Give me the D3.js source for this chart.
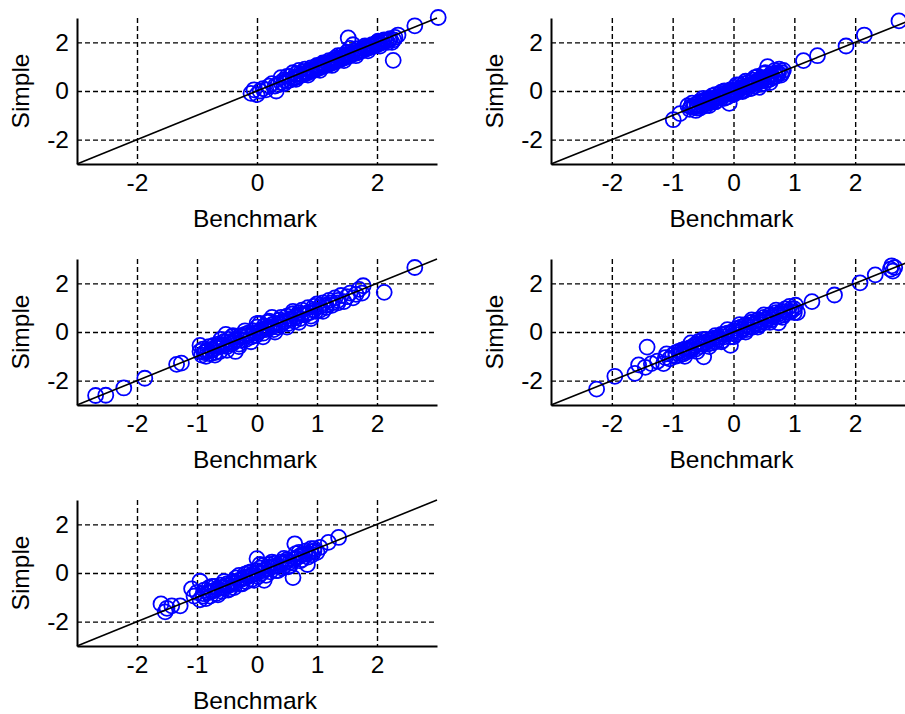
<!DOCTYPE html>
<html>
<head>
<meta charset="utf-8">
<script src="https://cdn.jsdelivr.net/npm/d3@7"></script>
<style>
  body { margin: 0; background: #fff; }
  svg text { font-family: "Liberation Sans", Arial, sans-serif; fill: #000; }
  .grid line { stroke: #000; stroke-dasharray: 5,3; stroke-width: 1.4; }
  .grid path { display: none; }
  .axis path { stroke: #000; stroke-width: 2; }
  .axis line { display: none; }
</style>
</head>
<body>
<div id="chart"></div>
<script>

// *************************************
// Data
// *************************************

const panel1 = [[-0.1,-0.1],[-0.05,0.05],[0.0,-0.15],[0.05,0.0],[0.1,0.1],[0.15,0.05],[0.2,0.2],[0.25,0.3],[0.32,0.0],[0.3,0.2],[0.35,0.25],[0.4,0.35],[0.4,0.55],[0.45,0.3],[0.5,0.4],[0.5,0.6],[0.55,0.45],[0.6,0.5],[0.6,0.75],[0.65,0.55],[0.7,0.6],[0.7,0.85],[0.75,0.65],[0.8,0.7],[0.8,0.9],[0.85,0.75],[0.9,0.8],[0.9,0.95],[0.95,0.85],[1.0,0.9],[1.0,1.05],[1.05,0.95],[1.1,1.0],[1.1,1.15],[1.15,1.05],[1.2,1.1],[1.2,1.25],[1.25,1.15],[1.3,1.2],[1.3,1.35],[1.35,1.25],[1.4,1.3],[1.4,1.45],[1.45,1.35],[1.5,1.4],[1.5,1.6],[1.55,1.45],[1.52,2.18],[1.6,1.55],[1.6,1.9],[1.65,1.55],[1.7,1.6],[1.7,1.75],[1.75,1.65],[1.8,1.7],[1.8,1.85],[1.85,1.75],[1.9,1.8],[1.95,1.85],[2.0,1.9],[2.0,2.0],[2.05,1.95],[2.1,2.0],[2.15,2.05],[2.2,2.1],[2.25,2.0],[2.3,2.2],[2.35,2.3],[2.27,1.26],[2.63,2.68],[3.02,3.02],
  [0.45,0.45],[0.55,0.6],[0.65,0.7],[0.72,0.72],[0.78,0.8],[0.88,0.85],[0.92,0.88],[0.98,1.0],[1.02,0.98],[1.08,1.08],[1.12,1.1],[1.18,1.15],[1.22,1.2],[1.28,1.25],[1.32,1.3],[1.38,1.35],[1.42,1.38],[1.48,1.5],[1.52,1.45],[1.58,1.5],[1.62,1.65],[1.68,1.6],[1.72,1.68],[1.78,1.75],[1.82,1.8],[1.88,1.85],[1.92,1.9],[1.98,1.95],[2.02,2.05],[2.08,2.05],[2.12,2.1],[2.18,2.0],[2.22,2.15],[2.28,2.1],[1.25,1.05],[1.45,1.25],[1.65,1.45],[1.85,1.65],[2.05,1.85],[1.05,0.85],[0.85,0.65],[0.65,0.48],[1.55,1.75],[1.35,1.45]];

const panel2 = [[-0.99,-1.18],[-0.88,-0.93],[-0.75,-0.6],[-0.72,-0.75],[-0.68,-0.5],[-0.65,-0.65],[-0.62,-0.8],[-0.6,-0.55],[-0.57,-0.45],[-0.55,-0.7],[-0.52,-0.6],[-0.5,-0.4],[-0.47,-0.55],[-0.45,-0.35],[-0.42,-0.5],[-0.4,-0.6],[-0.38,-0.3],[-0.35,-0.45],[-0.32,-0.35],[-0.3,-0.15],[-0.28,-0.4],[-0.25,-0.25],[-0.22,-0.1],[-0.2,-0.3],[-0.18,-0.2],[-0.15,0.0],[-0.12,-0.15],[-0.1,-0.25],[-0.07,-0.51],[-0.05,0.05],[-0.03,-0.1],[0.0,0.0],[0.02,0.15],[0.05,-0.05],[0.08,0.1],[0.1,0.25],[0.12,0.0],[0.15,0.15],[0.18,0.3],[0.2,0.05],[0.22,0.2],[0.25,0.35],[0.28,0.1],[0.3,0.25],[0.32,0.45],[0.35,0.2],[0.38,0.35],[0.4,0.6],[0.42,0.15],[0.45,0.4],[0.48,0.55],[0.5,0.3],[0.52,0.75],[0.55,0.45],[0.56,1.0],[0.58,0.6],[0.6,0.35],[0.62,0.7],[0.65,0.55],[0.68,0.85],[0.7,0.6],[0.72,0.75],[0.75,0.9],[0.78,0.65],[0.8,0.75],[0.82,0.85],[1.15,1.25],[1.38,1.45],[1.85,1.85],[2.15,2.3],[2.72,2.88],
  [-0.7,-0.65],[-0.64,-0.58],[-0.58,-0.62],[-0.52,-0.48],[-0.46,-0.45],[-0.4,-0.4],[-0.34,-0.32],[-0.28,-0.25],[-0.22,-0.22],[-0.16,-0.12],[-0.1,-0.08],[-0.04,-0.02],[0.02,0.02],[0.08,0.05],[0.14,0.12],[0.2,0.18],[0.26,0.22],[0.32,0.3],[0.38,0.4],[0.44,0.48],[0.5,0.5],[0.56,0.55],[0.62,0.62],[0.68,0.7],[0.74,0.72],[-0.6,-0.7],[-0.45,-0.6],[-0.3,-0.45],[-0.15,-0.3],[0.0,-0.15],[0.15,-0.02],[0.3,0.12],[0.45,0.28],[0.6,0.48],[-0.5,-0.3],[-0.35,-0.2],[-0.2,-0.05],[0.05,0.25],[0.2,0.4],[0.35,0.55],[0.5,0.7]];

const panel3 = [[-2.69,-2.61],[-2.52,-2.6],[-2.22,-2.3],[-1.87,-1.9],[-1.34,-1.33],[-1.26,-1.28],[-0.95,-0.55],[-0.95,-0.8],[-0.92,-0.95],[-0.9,-0.7],[-0.88,-0.85],[-0.85,-1.0],[-0.82,-0.75],[-0.8,-0.6],[-0.78,-0.9],[-0.75,-0.7],[-0.72,-0.55],[-0.7,-0.85],[-0.68,-0.65],[-0.65,-0.5],[-0.62,-0.8],[-0.6,-0.55],[-0.55,-0.4],[-0.52,-0.1],[-0.5,-0.6],[-0.47,-0.3],[-0.45,-0.5],[-0.42,-0.2],[-0.4,-0.45],[-0.36,-0.8],[-0.35,-0.3],[-0.3,-0.5],[-0.28,-0.15],[-0.25,-0.35],[-0.2,-0.1],[-0.18,-0.3],[-0.15,-0.05],[-0.1,-0.2],[-0.05,0.05],[-0.02,-0.15],[0.0,0.2],[0.03,0.0],[0.05,0.35],[0.08,0.1],[0.1,-0.05],[0.12,0.25],[0.15,0.1],[0.18,0.4],[0.2,0.15],[0.25,0.6],[0.25,0.3],[0.28,0.1],[0.3,0.35],[0.35,0.2],[0.38,0.5],[0.4,0.3],[0.45,0.45],[0.5,0.65],[0.52,0.35],[0.55,0.55],[0.6,0.75],[0.62,0.45],[0.65,0.65],[0.7,0.8],[0.72,0.55],[0.75,0.9],[0.8,0.7],[0.85,1.0],[0.88,0.8],[0.9,0.65],[0.95,1.05],[0.98,0.85],[1.0,1.15],[1.05,0.9],[1.1,1.2],[1.15,1.0],[1.2,1.3],[1.25,1.1],[1.3,1.4],[1.35,1.2],[1.4,1.5],[1.45,1.25],[1.5,1.45],[1.55,1.6],[1.6,1.4],[1.65,1.55],[1.7,1.75],[1.75,1.6],[1.77,1.9],[2.12,1.63],[2.63,2.65],
  [-0.85,-0.8],[-0.75,-0.75],[-0.65,-0.6],[-0.55,-0.55],[-0.45,-0.4],[-0.35,-0.35],[-0.25,-0.2],[-0.15,-0.15],[-0.05,-0.05],[0.05,0.05],[0.15,0.15],[0.25,0.2],[0.35,0.35],[0.45,0.4],[0.55,0.5],[0.65,0.6],[0.75,0.72],[0.85,0.8],[0.95,0.9],[1.05,1.05],[1.15,1.1],[1.25,1.2],[1.35,1.3],[-0.6,-0.3],[-0.4,-0.15],[-0.2,0.05],[0.0,0.35],[0.2,0.45],[0.4,0.6],[0.6,0.85],[-0.7,-0.95],[-0.5,-0.75],[-0.3,-0.6],[-0.1,-0.4],[0.1,-0.2],[0.3,0.0],[0.5,0.2],[0.7,0.4],[0.9,0.55],[1.1,0.85]];

const panel4 = [[-2.25,-2.35],[-1.95,-1.82],[-1.62,-1.7],[-1.56,-1.35],[-1.45,-1.45],[-1.42,-0.62],[-1.35,-1.3],[-1.25,-1.2],[-1.15,-1.3],[-1.12,-1.05],[-1.1,-0.9],[-1.05,-1.1],[-1.0,-0.95],[-0.95,-1.0],[-0.9,-0.8],[-0.88,-0.95],[-0.85,-0.75],[-0.82,-0.9],[-0.8,-0.7],[-0.75,-0.8],[-0.72,-0.65],[-0.7,-0.75],[-0.65,-0.55],[-0.62,-0.7],[-0.6,-0.5],[-0.58,-0.4],[-0.55,-0.6],[-0.5,-0.45],[-0.49,-1.02],[-0.45,-0.3],[-0.42,-0.5],[-0.4,-0.35],[-0.35,-0.45],[-0.32,-0.25],[-0.3,-0.4],[-0.25,-0.3],[-0.2,-0.1],[-0.18,-0.35],[-0.15,-0.2],[-0.1,-0.05],[-0.05,-0.2],[-0.05,-0.55],[0.0,0.05],[0.03,-0.1],[0.05,0.15],[0.1,0.0],[0.12,0.2],[0.15,0.1],[0.2,0.3],[0.22,0.1],[0.25,0.25],[0.3,0.4],[0.32,0.2],[0.35,0.35],[0.4,0.5],[0.42,0.3],[0.45,0.45],[0.5,0.6],[0.52,0.4],[0.55,0.55],[0.6,0.7],[0.62,0.5],[0.65,0.6],[0.7,0.8],[0.74,0.38],[0.75,0.65],[0.8,0.85],[0.82,0.7],[0.85,0.95],[0.9,0.8],[0.92,1.05],[0.95,0.85],[1.0,0.95],[1.02,1.1],[1.05,0.8],[1.29,1.25],[1.66,1.52],[2.08,2.02],[2.33,2.35],[2.58,2.58],[2.6,2.72],[2.65,2.65],[2.62,2.5],
  [-0.95,-0.85],[-0.85,-0.85],[-0.75,-0.7],[-0.65,-0.62],[-0.55,-0.5],[-0.45,-0.42],[-0.35,-0.3],[-0.25,-0.22],[-0.15,-0.1],[-0.05,-0.05],[0.05,0.05],[0.15,0.15],[0.25,0.2],[0.35,0.3],[0.45,0.4],[0.55,0.5],[0.65,0.65],[0.75,0.75],[0.85,0.82],[0.95,0.95],[-0.7,-0.45],[-0.5,-0.3],[-0.3,-0.15],[-0.1,0.1],[0.1,0.3],[0.3,0.5],[0.5,0.7],[0.7,0.9],[-0.8,-1.0],[-0.6,-0.8],[-0.4,-0.6],[-0.2,-0.4],[0.0,-0.2],[0.2,0.0],[0.4,0.2],[0.6,0.4],[0.8,0.6],[1.0,0.8]];

const panel5 = [[-1.6,-1.27],[-1.53,-1.6],[-1.5,-1.45],[-1.42,-1.35],[-1.28,-1.35],[-1.09,-0.65],[-1.05,-0.95],[-1.0,-0.8],[-0.95,-0.34],[-0.95,-1.1],[-0.9,-0.85],[-0.88,-0.7],[-0.85,-1.05],[-0.82,-0.8],[-0.8,-0.6],[-0.78,-0.95],[-0.75,-0.75],[-0.7,-0.55],[-0.68,-0.85],[-0.65,-0.65],[-0.6,-0.5],[-0.58,-0.75],[-0.55,-0.6],[-0.5,-0.45],[-0.48,-0.7],[-0.45,-0.5],[-0.4,-0.35],[-0.38,-0.6],[-0.35,-0.4],[-0.3,-0.1],[-0.28,-0.45],[-0.25,-0.25],[-0.2,-0.05],[-0.18,-0.35],[-0.15,-0.15],[-0.1,0.05],[-0.08,-0.25],[-0.05,-0.05],[0.0,0.59],[0.0,0.1],[0.02,-0.15],[0.05,0.2],[0.08,0.0],[0.1,0.3],[0.12,-0.3],[0.15,0.15],[0.2,0.35],[0.22,0.05],[0.25,0.25],[0.3,0.4],[0.32,0.1],[0.35,0.3],[0.4,0.45],[0.42,0.2],[0.45,0.4],[0.5,0.55],[0.52,0.25],[0.55,0.45],[0.6,-0.19],[0.63,1.2],[0.65,0.6],[0.7,0.85],[0.72,0.5],[0.75,0.75],[0.8,0.9],[0.84,0.35],[0.85,0.65],[0.9,1.0],[0.92,0.75],[0.95,0.9],[1.0,0.85],[1.05,1.05],[1.19,1.26],[1.36,1.46],
  [-0.9,-0.95],[-0.8,-0.8],[-0.7,-0.7],[-0.6,-0.6],[-0.5,-0.52],[-0.4,-0.42],[-0.3,-0.3],[-0.2,-0.2],[-0.1,-0.1],[0.0,0.0],[0.1,0.1],[0.2,0.2],[0.3,0.28],[0.4,0.38],[0.5,0.48],[0.6,0.55],[0.7,0.68],[0.8,0.78],[0.9,0.88],[-0.75,-0.55],[-0.55,-0.35],[-0.35,-0.2],[-0.15,0.0],[0.05,0.35],[0.25,0.45],[0.45,0.6],[0.65,0.8],[-0.65,-0.9],[-0.45,-0.65],[-0.25,-0.45],[-0.05,-0.3],[0.15,-0.1],[0.35,0.1],[0.55,0.3],[0.75,0.55],[0.85,0.8],[0.95,1.0]];

const panels = [panel1, panel2, panel3, panel4, panel5];

// x ticks: the first panel only shows even ticks
const xTicksFirst = [-2, 0, 2];
const xTicksOther = [-2, -1, 0, 1, 2];
const yTicks = [-2, 0, 2];
const refLine = [-3, 3];   // 45 degree line
const xLabel = "Benchmark";
const yLabel = "Simple";

// *************************************
// Layout
// *************************************

const width = 905, height = 714;
const colLeft = [77, 551];
const colWidth = [360, 365];
const rowTop = [18, 259, 500];
const plotH = 146;
const fontSize = "24.5px";

const svg = d3.select("#chart").append("svg")
  .attr("width", width)
  .attr("height", height)

panels.forEach((data, i) => {
  const col = i % 2, row = Math.floor(i / 2)
  const left = colLeft[col], top = rowTop[row], w = colWidth[col]

  const x = d3.scaleLinear().domain([-3, 3]).range([0, w])
  const y = d3.scaleLinear().domain([-3, 3]).range([plotH, 0])
  const xTicks = i === 0 ? xTicksFirst : xTicksOther

  const g = svg.append("g").attr("transform", `translate(${left},${top})`)

  // dashed grid
  g.append("g").attr("class", "grid")
    .call(d3.axisBottom(x).tickValues(xTicks).tickSize(plotH).tickFormat(""))
  g.append("g").attr("class", "grid")
    .call(d3.axisLeft(y).tickValues(yTicks).tickSize(-w).tickFormat(""))

  // circles
  g.append("g").selectAll("circle")
    .data(data)
    .join("circle")
    .attr("cx", d => x(d[0]))
    .attr("cy", d => y(d[1]))
    .attr("r", 7.5)
    .attr("fill", "none")
    .attr("stroke", "#0000ff")
    .attr("stroke-width", 1.8)

  // reference line
  g.append("path")
    .datum(refLine)
    .attr("d", d3.line().x(d => x(d)).y(d => y(d)))
    .attr("fill", "none")
    .attr("stroke", "#000")
    .attr("stroke-width", 1.6)

  // axes (no box on top/right)
  g.append("g").attr("class", "axis")
    .attr("transform", `translate(0,${plotH})`)
    .call(d3.axisBottom(x).tickValues(xTicks).tickSize(0).tickSizeOuter(0).tickPadding(10).tickFormat(d => String(d)))
  g.append("g").attr("class", "axis")
    .call(d3.axisLeft(y).tickValues(yTicks).tickSize(0).tickSizeOuter(0).tickPadding(8).tickFormat(d => String(d)))
  g.selectAll(".axis text").style("font-size", fontSize)

  g.append("text")
    .attr("x", w / 2 - 2)
    .attr("y", plotH + 63)
    .attr("text-anchor", "middle")
    .style("font-size", fontSize)
    .text(xLabel)

  g.append("text")
    .attr("transform", `translate(-48,${plotH / 2}) rotate(-90)`)
    .attr("text-anchor", "middle")
    .style("font-size", fontSize)
    .text(yLabel)
})

</script>
</body>
</html>
